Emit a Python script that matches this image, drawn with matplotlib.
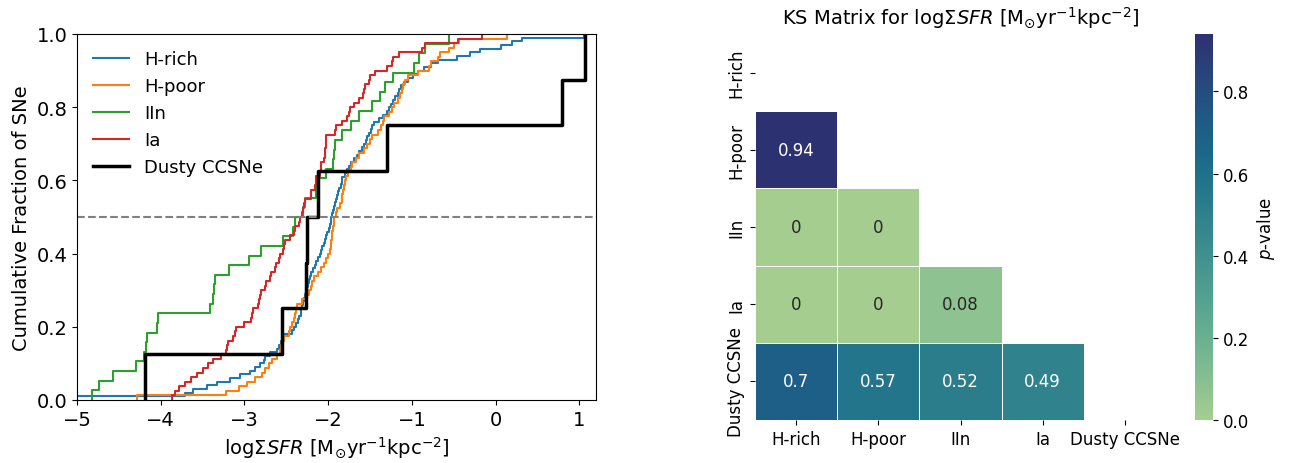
import numpy as np
import matplotlib.pyplot as plt
import seaborn as sns

# log Sigma_SFR at the SN site, per class
h_rich = [-5.20, -3.71, -3.61, -3.45, -3.33, -3.17, -3.05, -2.93, -2.87, -2.81,
          -2.77, -2.75, -2.69, -2.61, -2.59, -2.56, -2.54, -2.53, -2.43, -2.41,
          -2.38, -2.36, -2.35, -2.33, -2.32, -2.31, -2.30, -2.29, -2.28, -2.27,
          -2.26, -2.24, -2.23, -2.22, -2.21, -2.18, -2.16, -2.15, -2.12, -2.10,
          -2.09, -2.07, -2.05, -2.04, -2.03, -2.01, -1.99, -1.98, -1.97, -1.96,
          -1.95, -1.94, -1.93, -1.92, -1.90, -1.89, -1.88, -1.87, -1.85, -1.84,
          -1.83, -1.80, -1.77, -1.75, -1.73, -1.69, -1.66, -1.63, -1.59, -1.57,
          -1.55, -1.53, -1.51, -1.49, -1.47, -1.45, -1.39, -1.34, -1.30, -1.27,
          -1.25, -1.23, -1.20, -1.17, -1.15, -1.13, -1.09, -1.05, -0.99, -0.93,
          -0.85, -0.77, -0.69, -0.46, -0.30, -0.18, 0.06, 0.20, 0.32, 1.06]

h_poor = [-4.28, -3.22, -3.07, -2.97, -2.87, -2.79, -2.75, -2.71, -2.67, -2.61,
          -2.58, -2.56, -2.54, -2.53, -2.47, -2.45, -2.43, -2.41, -2.39, -2.38,
          -2.37, -2.31, -2.25, -2.23, -2.21, -2.19, -2.17, -2.12, -2.09, -2.05,
          -2.03, -2.00, -1.98, -1.97, -1.962, -1.956, -1.95, -1.94, -1.935, -1.93,
          -1.91, -1.89, -1.86, -1.84, -1.83, -1.82, -1.81, -1.80, -1.79, -1.76,
          -1.73, -1.71, -1.67, -1.63, -1.57, -1.53, -1.50, -1.47, -1.40, -1.37,
          -1.35, -1.33, -1.27, -1.24, -1.21, -1.17, -1.14, -1.12, -1.11, -1.08,
          -1.05, -0.93, -0.79, -0.77, -0.69, -0.66, -0.55, -0.50, -0.44, 0.14]

iin = [-4.82, -4.74, -4.57, -4.29, -4.20, -4.18, -4.16, -4.04, -4.03, -3.41,
       -3.37, -3.36, -3.35, -3.19, -2.94, -2.80, -2.54, -2.42, -2.39, -2.30,
       -2.28, -2.15, -2.13, -2.02, -1.94, -1.93, -1.92, -1.83, -1.73, -1.63,
       -1.48, -1.38, -1.32, -1.23, -0.97, -0.92, -0.84, -0.56]

ia = [-3.87, -3.83, -3.78, -3.71, -3.64, -3.57, -3.50, -3.44, -3.38, -3.28,
      -3.22, -3.21, -3.20, -3.14, -3.11, -3.10, -3.00, -2.92, -2.91, -2.90,
      -2.84, -2.82, -2.81, -2.80, -2.75, -2.74, -2.69, -2.68, -2.63, -2.62,
      -2.59, -2.58, -2.54, -2.53, -2.52, -2.46, -2.41, -2.40, -2.35, -2.34,
      -2.31, -2.30, -2.29, -2.28, -2.21, -2.20, -2.16, -2.15, -2.14, -2.10,
      -2.09, -2.08, -2.05, -2.04, -2.04, -2.03, -2.03, -2.03, -1.92, -1.91,
      -1.83, -1.77, -1.75, -1.74, -1.69, -1.63, -1.58, -1.57, -1.56, -1.51,
      -1.50, -1.44, -1.30, -1.24, -1.23, -1.15, -0.88, -0.84, -0.45, -0.16]

dusty = [-4.19, -2.55, -2.27, -2.25, -2.12, -1.30, 0.80, 1.07]

classes = ['H-rich', 'H-poor', 'IIn', 'Ia', 'Dusty CCSNe']

# KS p-values, lower triangle (row vs earlier columns)
p_hpoor = [0.94]
p_iin = [0, 0]
p_ia = [0, 0, 0.08]
p_dusty = [0.7, 0.57, 0.52, 0.49]

sfr_label = r'log$\Sigma SFR$ [M$_{\odot}$yr$^{-1}$kpc$^{-2}$]'

fig = plt.figure(figsize=(12.9, 4.64), dpi=100)
ax1 = fig.add_axes([0.0597, 0.1358, 0.4023, 0.7888])
ax2 = fig.add_axes([0.5853, 0.0927, 0.3186, 0.8319])
cax = fig.add_axes([0.9264, 0.0927, 0.0140, 0.8319])

# Cumulative distributions
ax1.ecdf(h_rich, color='tab:blue', lw=1.5, label='H-rich')
ax1.ecdf(h_poor, color='tab:orange', lw=1.5, label='H-poor')
ax1.ecdf(iin, color='tab:green', lw=1.5, label='IIn')
ax1.ecdf(ia, color='tab:red', lw=1.5, label='Ia')
ax1.ecdf(dusty, color='black', lw=2.5, label='Dusty CCSNe')
ax1.axhline(0.5, color='gray', ls='--', lw=1.5)

ax1.set_xlim(-5, 1.2)
ax1.set_ylim(0, 1)
ax1.set_xlabel(sfr_label, fontsize=14)
ax1.set_ylabel('Cumulative Fraction of SNe', fontsize=14)
ax1.tick_params(labelsize=14)
ax1.legend(loc='upper left', frameon=False, fontsize=13)

# KS matrix
ks = np.zeros((5, 5))
for i, row in enumerate([p_hpoor, p_iin, p_ia, p_dusty], start=1):
    ks[i, :i] = row
mask = np.triu(np.ones_like(ks, dtype=bool))

sns.heatmap(ks, mask=mask, cmap='crest', annot=True, annot_kws={'fontsize': 12},
            linewidths=0.5, linecolor='white', xticklabels=classes,
            yticklabels=classes, ax=ax2, cbar_ax=cax,
            cbar_kws={'label': '$p$-value'})
ax2.set_title('KS Matrix for ' + sfr_label, fontsize=14, pad=7)
ax2.tick_params(labelsize=12)
plt.setp(ax2.get_yticklabels(), rotation=90, va='center')
plt.setp(ax2.get_xticklabels(), rotation=0)
cax.tick_params(labelsize=12)
cax.yaxis.label.set_size(12)

plt.savefig('out.png', dpi=100)
